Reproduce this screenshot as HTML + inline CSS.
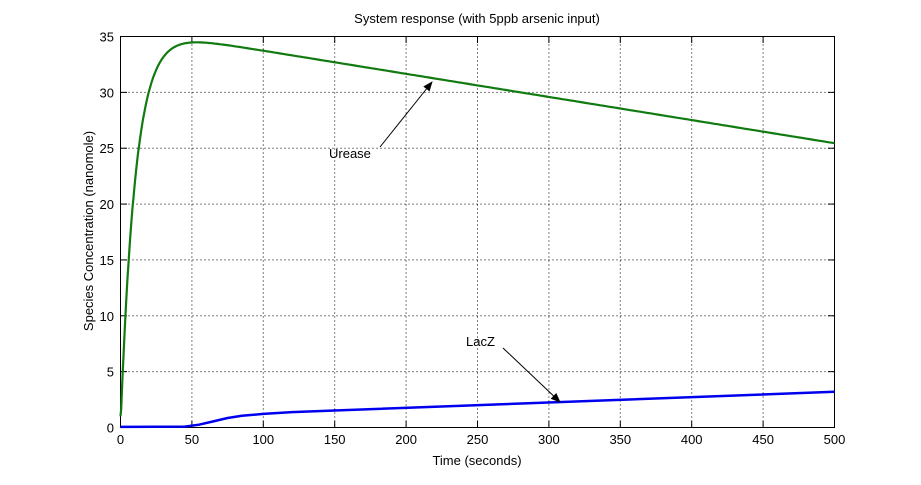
<!DOCTYPE html>
<html><head><style>
body{margin:0;background:#fff}
svg text{font-family:"Liberation Sans",Arial,sans-serif;font-size:13px;fill:#000}
</style></head><body>
<svg id="s" width="921" height="480" xmlns="http://www.w3.org/2000/svg">
<rect width="921" height="480" fill="#fff"/>
<g id="grid" stroke="#000" stroke-width="1" stroke-dasharray="1,3"></g>
<g id="ticks" stroke="#000" stroke-width="1"></g>
<rect x="120.5" y="36.5" width="714" height="391" fill="none" stroke="#000" stroke-width="1"/>
<g id="labels"></g>
<path id="u" fill="none" stroke="#117a11" stroke-width="2.2"/>
<path id="l" fill="none" stroke="#0000ee" stroke-width="2.5"/>
<text x="477" y="23" text-anchor="middle">System response (with 5ppb arsenic input)</text>
<text x="477" y="465" text-anchor="middle">Time (seconds)</text>
<text transform="translate(93,231) rotate(-90)" text-anchor="middle">Species Concentration (nanomole)</text>
<text x="329" y="158">Urease</text>
<text x="466" y="346">LacZ</text>
<defs><marker id="ar" markerWidth="10" markerHeight="8" refX="9" refY="4" orient="auto" markerUnits="userSpaceOnUse"><path d="M0,0 L10,4 L0,8 z" fill="#000"/></marker></defs>
<line x1="380" y1="147" x2="432" y2="82" stroke="#000" marker-end="url(#ar)"/>
<line x1="503" y1="348" x2="560" y2="402" stroke="#000" marker-end="url(#ar)"/>
</svg>
<script>
var X=t=>120.5+t*1.428, Y=v=>427.5-v*11.171;
var g=document.getElementById('grid'),tk=document.getElementById('ticks'),lb=document.getElementById('labels');
var ns='http://www.w3.org/2000/svg';
function el(p,n,a,txt){var e=document.createElementNS(ns,n);for(var k in a)e.setAttribute(k,a[k]);if(txt!=null)e.textContent=txt;p.appendChild(e);}
for(var t=0;t<=500;t+=50){var x=X(t);
 if(t>0&&t<500)el(g,'line',{x1:x,y1:36.5,x2:x,y2:427.5});
 el(tk,'line',{x1:x,y1:427.5,x2:x,y2:421});el(tk,'line',{x1:x,y1:36.5,x2:x,y2:43});
 el(lb,'text',{x:x,y:444,'text-anchor':'middle'},t);}
for(var v=0;v<=35;v+=5){var y=Y(v);
 if(v>0&&v<35)el(g,'line',{x1:120.5,y1:y,x2:834.5,y2:y});
 el(tk,'line',{x1:120.5,y1:y,x2:127,y2:y});el(tk,'line',{x1:834.5,y1:y,x2:828,y2:y});
 el(lb,'text',{x:114,y:y+5,'text-anchor':'end'},v);}
var d='';for(var t=0;t<=500;t+=(t<60?0.5:2)){var u=(35.8-0.0207*t)*(1-Math.exp(-t/10.5));if(u<1)u=1;
 d+=(d?'L':'M')+X(t).toFixed(1)+','+Y(u).toFixed(1);}
document.getElementById('u').setAttribute('d',d);
var P=[[0,0.05],[45,0.08],[55,0.25],[65,0.55],[75,0.85],[85,1.05],[100,1.22],[120,1.38],[150,1.52],[500,3.2]];
document.getElementById('l').setAttribute('d',P.map((p,i)=>(i?'L':'M')+X(p[0]).toFixed(1)+','+Y(p[1]).toFixed(1)).join(''));
</script>
</body></html>
